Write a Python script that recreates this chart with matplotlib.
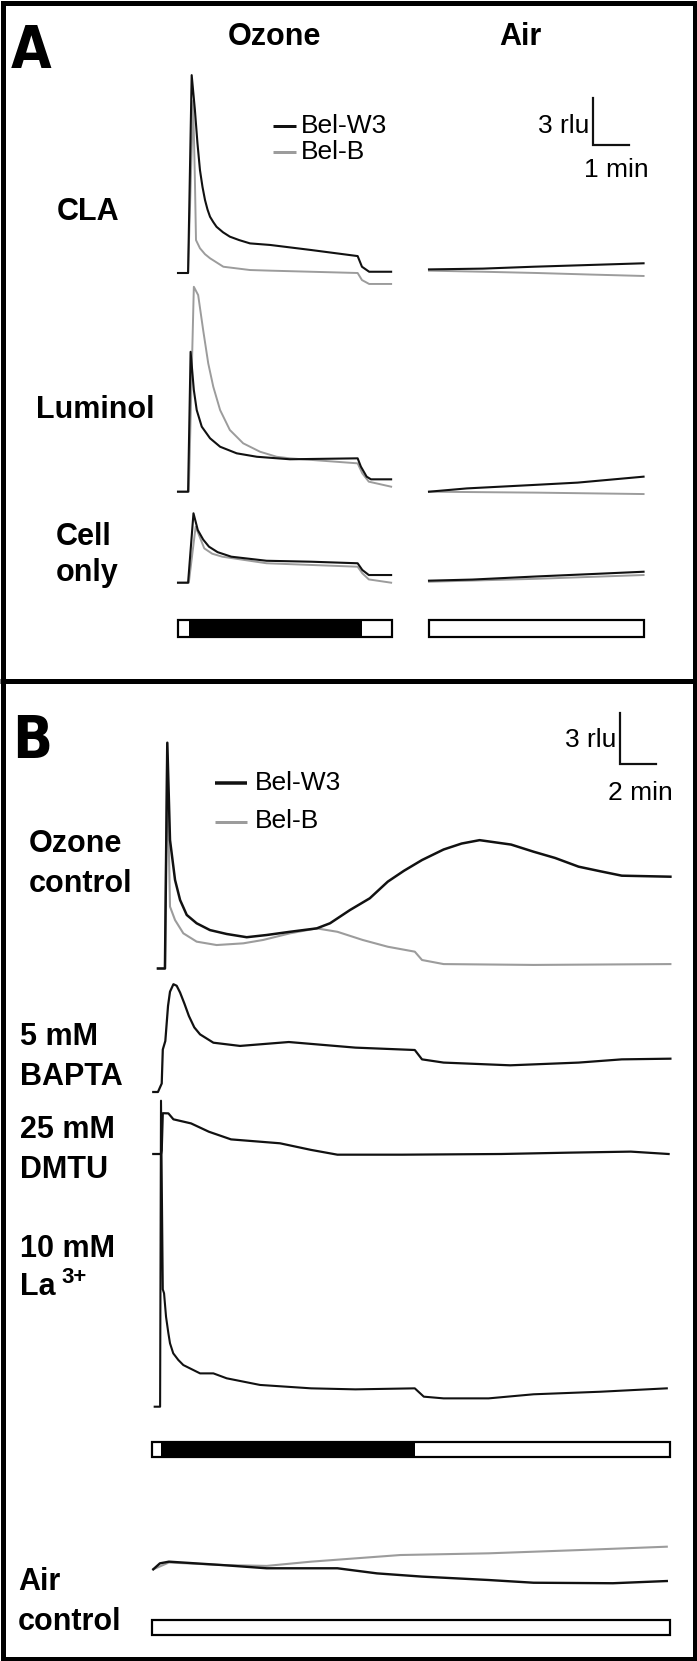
import matplotlib
matplotlib.use('Agg')
import matplotlib.pyplot as plt
from matplotlib.patches import Rectangle

# ------------------------------------------------------------------ data
# Panel A (time in min, signal in rlu relative to pre-stimulus level)
cla_oz_t_w3 = [0, 0.28, 0.38, 0.47, 0.54, 0.61, 0.68, 0.75, 0.82, 0.89, 0.98, 1.07, 1.25, 1.44, 1.7, 2.0,
               2.56, 3.69, 4.99, 5.11, 5.31, 5.92]
cla_oz_v_w3 = [0, 0, 12.63, 10.4, 8.3, 6.57, 5.5, 4.66, 4.05, 3.59, 3.25, 2.95, 2.6, 2.32, 2.1, 1.89,
               1.79, 1.47, 1.08, 0.40, 0.08, 0.08]
cla_oz_t_b = [0, 0.28, 0.42, 0.47, 0.5, 0.61, 0.75, 0.89, 1.26, 2.0, 2.56, 4.99, 5.11, 5.31, 5.92]
cla_oz_v_b = [0, 0, 11.0, 5.9, 2.1, 1.58, 1.2, 0.94, 0.40, 0.19, 0.15, 0.0, -0.45, -0.70, -0.70]
cla_air_t_w3 = [0, 1.5, 2.9, 4.3, 5.96]
cla_air_v_w3 = [0.23, 0.28, 0.40, 0.50, 0.62]
cla_air_t_b = [0, 1.5, 3.0, 4.5, 5.96]
cla_air_v_b = [0.15, 0.08, 0.0, -0.10, -0.19]

lum_oz_t_w3 = [0, 0.28, 0.35, 0.44, 0.52, 0.66, 0.89, 1.17, 1.63, 2.19, 3.11, 4.99, 5.08, 5.24, 5.36, 5.92]
lum_oz_v_w3 = [0, 0, 8.93, 6.49, 5.21, 4.15, 3.41, 2.87, 2.45, 2.23, 2.07, 2.13, 1.60, 0.96, 0.79, 0.79]
lum_oz_t_b = [0, 0.3, 0.44, 0.56, 0.70, 0.84, 0.98, 1.17, 1.44, 1.81, 2.28, 2.74, 3.11, 4.99, 5.12,
              5.30, 5.92]
lum_oz_v_b = [0, 0, 13.08, 12.55, 10.3, 8.19, 6.7, 5.21, 3.94, 3.09, 2.55, 2.23, 2.13, 1.81, 1.17,
              0.64, 0.32]
lum_air_t_w3 = [0, 1.05, 2.9, 4.13, 5.96]
lum_air_v_w3 = [0, 0.21, 0.43, 0.58, 0.96]
lum_air_t_b = [0, 3.0, 5.96]
lum_air_v_b = [0, -0.06, -0.15]

cell_oz_t_w3 = [0, 0.28, 0.43, 0.55, 0.7, 0.86, 1.1, 1.48, 2.46, 3.70, 4.99, 5.12, 5.30, 5.92]
cell_oz_v_w3 = [0, 0, 4.43, 3.36, 2.75, 2.30, 1.95, 1.66, 1.40, 1.34, 1.24, 0.81, 0.49, 0.49]
cell_oz_t_b = [0, 0.3, 0.49, 0.73, 0.95, 1.23, 2.46, 4.99, 5.12, 5.30, 5.92]
cell_oz_v_b = [0, 0, 3.57, 2.19, 1.85, 1.66, 1.24, 1.02, 0.60, 0.21, 0.0]
cell_air_t_w3 = [0, 1.2, 3.0, 4.5, 5.96]
cell_air_v_w3 = [0.13, 0.20, 0.40, 0.55, 0.70]
cell_air_t_b = [0, 3.0, 5.96]
cell_air_v_b = [0.06, 0.25, 0.49]

# exposure bars panel A (min)
barA_oz_edges = [0, 0.3, 5.1, 5.94]
barA_oz_fill = ['white', 'black', 'white']
barA_air_edges = [0, 5.97]
barA_air_fill = ['white']

# Panel B
ozc_t_w3 = [0.33, 0.72, 0.85, 1.0, 1.28, 1.56, 1.93, 2.48, 3.22, 4.15, 5.26, 6.37, 7.67, 9.15, 9.89,
            11.0, 12.1, 13.1, 14.0, 15.0, 16.2, 17.2, 18.2, 19.95, 21.2, 22.4, 23.7, 24.9, 26.1, 28.8]
ozc_v_w3 = [0, 0, 13.28, 7.56, 5.21, 4.03, 3.15, 2.66, 2.26, 2.03, 1.84, 1.97, 2.16, 2.36, 2.66,
            3.44, 4.13, 5.11, 5.75, 6.38, 7.0, 7.35, 7.55, 7.29, 6.87, 6.5, 5.99, 5.72, 5.46, 5.4]
ozc_t_b = [0.33, 0.72, 0.84, 1.0, 1.28, 1.74, 2.48, 3.59, 5.07, 6.18, 7.67, 9.15, 10.3, 11.7, 13.1,
           14.6, 15.0, 16.2, 21.2, 28.8]
ozc_v_b = [0, 0, 12.5, 3.64, 2.85, 2.07, 1.58, 1.38, 1.48, 1.68, 2.07, 2.36, 2.16, 1.68, 1.28,
           0.99, 0.5, 0.26, 0.21, 0.26]

bapta_t = [0.07, 0.33, 0.54, 0.6, 0.74, 0.89, 1.0, 1.19, 1.37, 1.56, 1.8, 2.05, 2.35, 2.67, 3.41, 4.89,
           7.6, 11.3, 14.6, 15.0, 16.2, 19.9, 23.7, 26.1, 28.8]
bapta_v = [0, 0, 0.5, 2.5, 3.0, 5.06, 5.9, 6.34, 6.25, 5.85, 5.2, 4.47, 3.8, 3.39, 2.90, 2.71,
           2.94, 2.61, 2.47, 1.92, 1.73, 1.57, 1.73, 1.92, 1.96]

dmtu_t = [0.07, 0.5, 0.54, 0.6, 0.91, 1.19, 2.17, 3.16, 4.39, 7.11, 8.84, 10.3, 13.9, 19.4, 23.2, 26.6, 28.7]
dmtu_v = [0, 0, 0.2, 2.4, 2.39, 2.04, 1.80, 1.31, 0.86, 0.63, 0.24, -0.04, -0.04, 0.0, 0.08, 0.14, 0.0]

la_t = [0.15, 0.45, 0.5, 0.6, 0.67, 0.78, 0.91, 1.0, 1.18, 1.46, 1.74, 2.67, 3.41, 4.15, 6.0, 8.84, 11.3,
        14.6, 15.1, 16.2, 18.7, 21.2, 24.9, 28.6]
la_v = [0, 0, 18.0, 6.9, 6.67, 5.29, 4.32, 3.73, 3.14, 2.75, 2.45, 1.96, 1.96, 1.67, 1.28, 1.08, 1.02,
        1.08, 0.59, 0.49, 0.49, 0.73, 0.88, 1.08]

airc_t_w3 = [0.07, 0.44, 0.94, 3.9, 6.37, 10.3, 12.5, 15.0, 18.7, 21.2, 25.6, 28.6]
airc_v_w3 = [0, 0.35, 0.45, 0.25, 0.06, 0.06, -0.24, -0.43, -0.63, -0.79, -0.82, -0.69]
airc_t_b = [0.07, 0.94, 3.9, 6.37, 8.84, 13.8, 18.7, 23.7, 28.6]
airc_v_b = [0, 0.4, 0.25, 0.2, 0.45, 0.84, 0.94, 1.13, 1.33]

barB_oz_edges = [0, 0.5, 14.64, 28.8]
barB_oz_fill = ['white', 'black', 'white']
barB_air_edges = [0, 28.8]
barB_air_fill = ['white']

series_names = ['Bel-W3', 'Bel-B']
scale_A = (3, 1)   # rlu, min
scale_B = (3, 2)

# ------------------------------------------------------------------ layout
W, H = 697, 1661
fig = plt.figure(figsize=(W / 100, H / 100), dpi=100)
BLACK = '#111111'
GRAY = '#9c9c9c'
PT = 0.72  # points per pixel


def px_axes(x0, y0, x1, y1):
    ax = fig.add_axes([x0 / W, 1 - y1 / H, (x1 - x0) / W, (y1 - y0) / H])
    ax.set_axis_off()
    ax.patch.set_alpha(0)
    return ax


def trace_axes(x0, x1, y0, y1, x_origin, kx, y_base, ky):
    ax = px_axes(x0, y0, x1, y1)
    ax.set_xlim((x0 - x_origin) / kx, (x1 - x_origin) / kx)
    ax.set_ylim((y_base - y1) / ky, (y_base - y0) / ky)
    return ax


def draw_pair(ax, tb, vb, tw, vw, lw_b=1.4, lw_w=1.5):
    if tb is not None:
        ax.plot(tb, vb, color=GRAY, lw=lw_b, solid_joinstyle='round', clip_on=False)
    ax.plot(tw, vw, color=BLACK, lw=lw_w, solid_joinstyle='round', clip_on=False)


def draw_bar(x0, x1, y0, y1, edges, fills):
    ax = px_axes(x0, y0, x1, y1)
    ax.set_xlim(edges[0], edges[-1])
    ax.set_ylim(-0.5, 0.5)
    lefts = edges[:-1]
    widths = [b - a for a, b in zip(edges[:-1], edges[1:])]
    ax.barh([0] * len(lefts), widths, left=lefts, height=1.0, color=fills, edgecolor='none')
    ax.add_patch(Rectangle((edges[0], -0.5), edges[-1] - edges[0], 1.0, fill=False,
                           ec='black', lw=2.2 * PT, clip_on=False))


# ---- Panel A
kxA, kyA = 36.0, 47.0 / 3.0
oxA_oz, oxA_air = 178.0, 429.0
rowsA = [
    (273.0, cla_oz_t_b, cla_oz_v_b, cla_oz_t_w3, cla_oz_v_w3,
     cla_air_t_b, cla_air_v_b, cla_air_t_w3, cla_air_v_w3),
    (491.7, lum_oz_t_b, lum_oz_v_b, lum_oz_t_w3, lum_oz_v_w3,
     lum_air_t_b, lum_air_v_b, lum_air_t_w3, lum_air_v_w3),
    (582.7, cell_oz_t_b, cell_oz_v_b, cell_oz_t_w3, cell_oz_v_w3,
     cell_air_t_b, cell_air_v_b, cell_air_t_w3, cell_air_v_w3),
]
axA_first_air = None
for yb, otb, ovb, otw, ovw, atb, avb, atw, avw in rowsA:
    axo = trace_axes(170, 400, yb - 220, yb + 20, oxA_oz, kxA, yb, kyA)
    draw_pair(axo, otb, ovb, otw, ovw)
    axa = trace_axes(420, 660, yb - 220, yb + 20, oxA_air, kxA, yb, kyA)
    draw_pair(axa, atb, avb, atw, avw)
    if axA_first_air is None:
        axA_first_air = axa

# scale bar A (in CLA-air axes data units)
t0, v0 = (593 - oxA_air) / kxA, (273.0 - 145) / kyA
axA_first_air.plot([t0, t0, t0 + scale_A[1]], [v0 + scale_A[0], v0, v0],
                   color=BLACK, lw=2.2 * PT, solid_joinstyle='miter', clip_on=False)

draw_bar(178, 392, 620, 637, barA_oz_edges, barA_oz_fill)
draw_bar(429, 644, 620, 637, barA_air_edges, barA_air_fill)

# ---- Panel B
kxB, kyB = 18.0, 17.0
oxB = 152.0
axB_oz = trace_axes(140, 690, 700, 990, oxB, kxB, 968.5, kyB)
draw_pair(axB_oz, ozc_t_b, ozc_v_b, ozc_t_w3, ozc_v_w3, lw_b=1.5, lw_w=1.8)
axB_bap = trace_axes(140, 690, 960, 1110, oxB, kxB, 1092.0, kyB)
draw_pair(axB_bap, None, None, bapta_t, bapta_v, lw_w=1.6)
axB_dm = trace_axes(140, 690, 1090, 1170, oxB, kxB, 1154.0, kyB)
draw_pair(axB_dm, None, None, dmtu_t, dmtu_v, lw_w=1.6)
axB_la = trace_axes(140, 690, 1080, 1420, oxB, kxB, 1406.7, kyB)
draw_pair(axB_la, None, None, la_t, la_v, lw_w=1.5)
axB_air = trace_axes(140, 690, 1530, 1600, oxB, kxB, 1569.3, kyB)
draw_pair(axB_air, airc_t_b, airc_v_b, airc_t_w3, airc_v_w3, lw_b=1.5, lw_w=1.7)

t0, v0 = (620 - oxB) / kxB, (968.5 - 764) / kyB
axB_oz.plot([t0, t0, t0 + scale_B[1]], [v0 + scale_B[0], v0, v0],
            color=BLACK, lw=2.2 * PT, solid_joinstyle='miter', clip_on=False)

draw_bar(152, 670, 1442, 1457, barB_oz_edges, barB_oz_fill)
draw_bar(152, 670, 1620, 1635, barB_air_edges, barB_air_fill)

# ---- overlay: frame, labels, legends
ov = fig.add_axes([0, 0, 1, 1])
ov.set_xlim(0, W)
ov.set_ylim(H, 0)
ov.set_axis_off()
ov.patch.set_alpha(0)
ov.add_patch(Rectangle((2.5, 2.5), W - 5, H - 5, fill=False, ec='black', lw=5 * PT))
ov.plot([0, W], [680.5, 680.5], color='black', lw=5 * PT, solid_capstyle='butt')

BIG = dict(family=['DejaVu Sans'], stretch='condensed', fontsize=42, weight='bold',
           ha='center', va='baseline', color='black')
ov.text(31, 68, 'A', **BIG)
ov.text(32, 758, 'B', **BIG)

LAB = dict(family=['Liberation Sans', 'DejaVu Sans'], fontsize=22, weight='bold',
           ha='left', va='baseline', color='black')
ov.text(228, 45, 'Ozone', **LAB)
ov.text(499, 45, 'Air', **LAB)
ov.text(57, 220, 'CLA', **LAB)
ov.text(36, 418, 'Luminol', **LAB)
ov.text(56, 545, 'Cell', **LAB)
ov.text(56, 581, 'only', **LAB)

ov.text(29, 852, 'Ozone', **LAB)
ov.text(29, 892, 'control', **LAB)
ov.text(20, 1045, '5 mM', **LAB)
ov.text(20, 1085, 'BAPTA', **LAB)
ov.text(20, 1138, '25 mM', **LAB)
ov.text(20, 1178, 'DMTU', **LAB)
ov.text(20, 1257, '10 mM', **LAB)
ov.text(20, 1295, 'La', **LAB)
ov.text(61, 1283, '3+', **dict(LAB, fontsize=16))
ov.text(18, 1590, 'Air', **LAB)
ov.text(18, 1630, 'control', **LAB)

SM = dict(family=['Liberation Sans', 'DejaVu Sans'], fontsize=19, ha='left', va='center',
          color='black')
# legend A
ov.plot([273, 296], [126, 126], color=BLACK, lw=3 * PT, solid_capstyle='butt')
ov.plot([273, 296], [152, 152], color=GRAY, lw=3 * PT, solid_capstyle='butt')
ov.text(301, 126, series_names[0], **SM)
ov.text(301, 152, series_names[1], **SM)
ov.text(589, 126, f'{scale_A[0]} rlu', **dict(SM, ha='right'))
ov.text(649, 170, f'{scale_A[1]} min', **dict(SM, ha='right'))

# legend B
ov.plot([215, 247], [783, 783], color=BLACK, lw=3.5 * PT, solid_capstyle='butt')
ov.plot([215, 247], [821.5, 821.5], color=GRAY, lw=3 * PT, solid_capstyle='butt')
ov.text(255, 783, series_names[0], **SM)
ov.text(255, 821.5, series_names[1], **SM)
ov.text(616, 740, f'{scale_B[0]} rlu', **dict(SM, ha='right'))
ov.text(673, 793, f'{scale_B[1]} min', **dict(SM, ha='right'))

fig.savefig('out.png', dpi=100)
